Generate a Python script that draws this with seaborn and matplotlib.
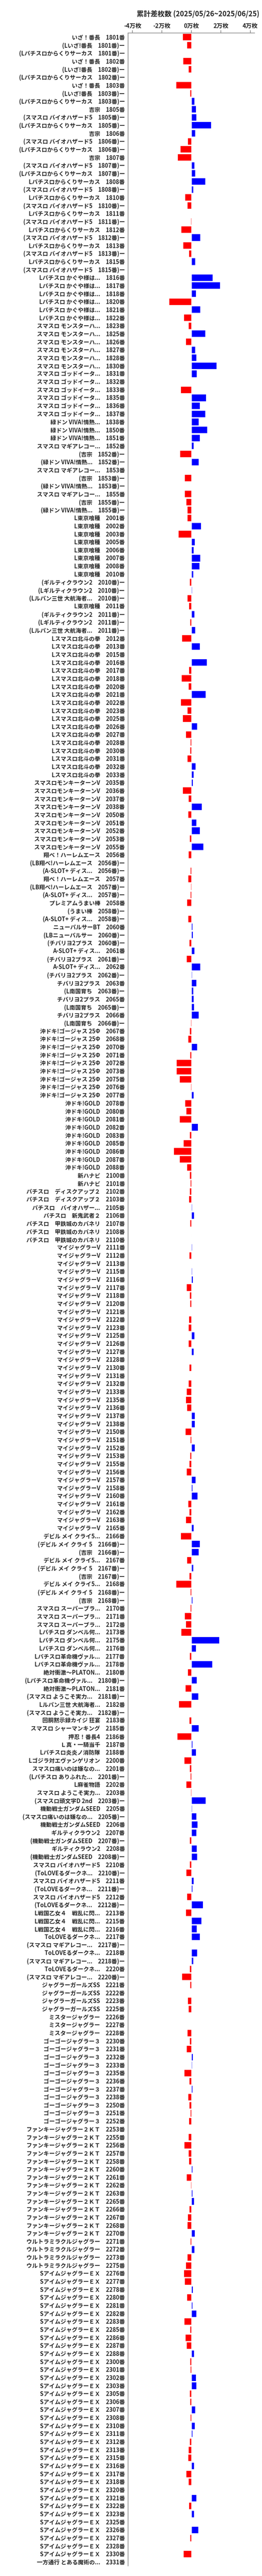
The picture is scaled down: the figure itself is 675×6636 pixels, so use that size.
import matplotlib
matplotlib.use("Agg")
import matplotlib.pyplot as plt
import seaborn as sns
import pandas as pd
from matplotlib.ticker import FixedLocator

S = "　"
labels = [
"いざ！番長"+S+"1801番","(Lいざ!番長"+S+"1801番)ー","(Lパチスロからくりサーカス"+S+"1801番)ー",
"いざ！番長"+S+"1802番","(Lいざ!番長"+S+"1802番)ー","(Lパチスロからくりサーカス"+S+"1802番)ー",
"いざ！番長"+S+"1803番","(Lいざ!番長"+S+"1803番)ー","(Lパチスロからくりサーカス"+S+"1803番)ー",
"吉宗"+S+"1805番","(スマスロ バイオハザード5"+S+"1805番)ー","(Lパチスロからくりサーカス"+S+"1805番)ー",
"吉宗"+S+"1806番","(スマスロ バイオハザード5"+S+"1806番)ー","(Lパチスロからくりサーカス"+S+"1806番)ー",
"吉宗"+S+"1807番","(スマスロ バイオハザード5"+S+"1807番)ー","(Lパチスロからくりサーカス"+S+"1807番)ー",
"Lパチスロからくりサーカス"+S+"1808番","(スマスロ バイオハザード5"+S+"1808番)ー",
"Lパチスロからくりサーカス"+S+"1810番","(スマスロ バイオハザード5"+S+"1810番)ー",
"Lパチスロからくりサーカス"+S+"1811番","(スマスロ バイオハザード5"+S+"1811番)ー",
"Lパチスロからくりサーカス"+S+"1812番","(スマスロ バイオハザード5"+S+"1812番)ー",
"Lパチスロからくりサーカス"+S+"1813番","(スマスロ バイオハザード5"+S+"1813番)ー",
"Lパチスロからくりサーカス"+S+"1815番","(スマスロ バイオハザード5"+S+"1815番)ー",
"Lパチスロ かぐや様は..."+S+"1816番","Lパチスロ かぐや様は..."+S+"1817番","Lパチスロ かぐや様は..."+S+"1818番",
"Lパチスロ かぐや様は..."+S+"1820番","Lパチスロ かぐや様は..."+S+"1821番","Lパチスロ かぐや様は..."+S+"1822番",
"スマスロ モンスターハ..."+S+"1823番","スマスロ モンスターハ..."+S+"1825番","スマスロ モンスターハ..."+S+"1826番",
"スマスロ モンスターハ..."+S+"1827番","スマスロ モンスターハ..."+S+"1828番","スマスロ モンスターハ..."+S+"1830番",
"スマスロ ゴッドイータ..."+S+"1831番","スマスロ ゴッドイータ..."+S+"1832番","スマスロ ゴッドイータ..."+S+"1833番",
"スマスロ ゴッドイータ..."+S+"1835番","スマスロ ゴッドイータ..."+S+"1836番","スマスロ ゴッドイータ..."+S+"1837番",
"緑ドン VIVA!情熱..."+S+"1838番","緑ドン VIVA!情熱..."+S+"1850番","緑ドン VIVA!情熱..."+S+"1851番",
"スマスロ マギアレコー..."+S+"1852番","(吉宗"+S+"1852番)ー","(緑ドン VIVA!情熱..."+S+"1852番)ー",
"スマスロ マギアレコー..."+S+"1853番","(吉宗"+S+"1853番)ー","(緑ドン VIVA!情熱..."+S+"1853番)ー",
"スマスロ マギアレコー..."+S+"1855番","(吉宗"+S+"1855番)ー","(緑ドン VIVA!情熱..."+S+"1855番)ー",
"L東京喰種"+S+"2001番","L東京喰種"+S+"2002番","L東京喰種"+S+"2003番","L東京喰種"+S+"2005番",
"L東京喰種"+S+"2006番","L東京喰種"+S+"2007番","L東京喰種"+S+"2008番","L東京喰種"+S+"2010番",
"(ギルティクラウン2"+S+"2010番)ー","(Lギルティクラウン2"+S+"2010番)ー","(Lルパン三世 大航海者..."+S+"2010番)ー",
"L東京喰種"+S+"2011番","(ギルティクラウン2"+S+"2011番)ー","(Lギルティクラウン2"+S+"2011番)ー","(Lルパン三世 大航海者..."+S+"2011番)ー",
"Lスマスロ北斗の拳"+S+"2012番","Lスマスロ北斗の拳"+S+"2013番","Lスマスロ北斗の拳"+S+"2015番","Lスマスロ北斗の拳"+S+"2016番",
"Lスマスロ北斗の拳"+S+"2017番","Lスマスロ北斗の拳"+S+"2018番","Lスマスロ北斗の拳"+S+"2020番","Lスマスロ北斗の拳"+S+"2021番",
"Lスマスロ北斗の拳"+S+"2022番","Lスマスロ北斗の拳"+S+"2023番","Lスマスロ北斗の拳"+S+"2025番","Lスマスロ北斗の拳"+S+"2026番",
"Lスマスロ北斗の拳"+S+"2027番","Lスマスロ北斗の拳"+S+"2028番","Lスマスロ北斗の拳"+S+"2030番","Lスマスロ北斗の拳"+S+"2031番",
"Lスマスロ北斗の拳"+S+"2032番","Lスマスロ北斗の拳"+S+"2033番",
"スマスロモンキーターンV"+S+"2035番","スマスロモンキーターンV"+S+"2036番","スマスロモンキーターンV"+S+"2037番",
"スマスロモンキーターンV"+S+"2038番","スマスロモンキーターンV"+S+"2050番","スマスロモンキーターンV"+S+"2051番",
"スマスロモンキーターンV"+S+"2052番","スマスロモンキーターンV"+S+"2053番","スマスロモンキーターンV"+S+"2055番",
"翔べ！ハーレムエース"+S+"2056番","(LB翔べ!ハーレムエース"+S+"2056番)ー","(A-SLOT+ ディス..."+S+"2056番)ー",
"翔べ！ハーレムエース"+S+"2057番","(LB翔べ!ハーレムエース"+S+"2057番)ー","(A-SLOT+ ディス..."+S+"2057番)ー",
"プレミアムうまい棒"+S+"2058番","(うまい棒"+S+"2058番)ー","(A-SLOT+ ディス..."+S+"2058番)ー",
"ニューパルサーBT"+S+"2060番","(LBニューパルサー"+S+"2060番)ー","(チバリヨ2プラス"+S+"2060番)ー",
"A-SLOT+ ディス..."+S+"2061番","(チバリヨ2プラス"+S+"2061番)ー",
"A-SLOT+ ディス..."+S+"2062番","(チバリヨ2プラス"+S+"2062番)ー",
"チバリヨ2プラス"+S+"2063番","(L南国育ち"+S+"2063番)ー","チバリヨ2プラス"+S+"2065番","(L南国育ち"+S+"2065番)ー",
"チバリヨ2プラス"+S+"2066番","(L南国育ち"+S+"2066番)ー",
"沖ドキ!ゴージャス 25Φ"+S+"2067番","沖ドキ!ゴージャス 25Φ"+S+"2068番","沖ドキ!ゴージャス 25Φ"+S+"2070番",
"沖ドキ!ゴージャス 25Φ"+S+"2071番","沖ドキ!ゴージャス 25Φ"+S+"2072番","沖ドキ!ゴージャス 25Φ"+S+"2073番",
"沖ドキ!ゴージャス 25Φ"+S+"2075番","沖ドキ!ゴージャス 25Φ"+S+"2076番","沖ドキ!ゴージャス 25Φ"+S+"2077番",
"沖ドキ!GOLD"+S+"2078番","沖ドキ!GOLD"+S+"2080番","沖ドキ!GOLD"+S+"2081番","沖ドキ!GOLD"+S+"2082番",
"沖ドキ!GOLD"+S+"2083番","沖ドキ!GOLD"+S+"2085番","沖ドキ!GOLD"+S+"2086番","沖ドキ!GOLD"+S+"2087番","沖ドキ!GOLD"+S+"2088番",
"新ハナビ"+S+"2100番","新ハナビ"+S+"2101番","パチスロ"+S+"ディスクアップ２"+S+"2102番","パチスロ"+S+"ディスクアップ２"+S+"2103番",
"パチスロ"+S+"バイオハザー..."+S+"2105番","パチスロ"+S+"新鬼武者２"+S+"2106番",
"パチスロ"+S+"甲鉄城のカバネリ"+S+"2107番","パチスロ"+S+"甲鉄城のカバネリ"+S+"2108番","パチスロ"+S+"甲鉄城のカバネリ"+S+"2110番",
] + ["マイジャグラーV"+S+n+"番" for n in ["2111","2112","2113","2115","2116","2117","2118","2120","2121","2122","2123","2125","2126","2127","2128","2130","2131","2132","2133","2135","2136","2137","2138","2150","2151","2152","2153","2155","2156","2157","2158","2160","2161","2162","2163","2165"]] + [
"デビル メイ クライ5..."+S+"2166番","(デビル メイ クライ 5"+S+"2166番)ー","(吉宗"+S+"2166番)ー",
"デビル メイ クライ5..."+S+"2167番","(デビル メイ クライ 5"+S+"2167番)ー","(吉宗"+S+"2167番)ー",
"デビル メイ クライ5..."+S+"2168番","(デビル メイ クライ 5"+S+"2168番)ー","(吉宗"+S+"2168番)ー",
"スマスロ スーパーブラ..."+S+"2170番","スマスロ スーパーブラ..."+S+"2171番","スマスロ スーパーブラ..."+S+"2172番",
"Lパチスロ ダンベル何..."+S+"2173番","Lパチスロ ダンベル何..."+S+"2175番","Lパチスロ ダンベル何..."+S+"2176番",
"Lパチスロ革命機ヴァル..."+S+"2177番","Lパチスロ革命機ヴァル..."+S+"2178番",
"絶対衝激～PLATON..."+S+"2180番","(Lパチスロ革命機ヴァル..."+S+"2180番)ー",
"絶対衝激～PLATON..."+S+"2181番","(スマスロ ようこそ実力..."+S+"2181番)ー",
"Lルパン三世 大航海者..."+S+"2182番","(スマスロ ようこそ実力..."+S+"2182番)ー",
"回胴黙示録カイジ 狂宴"+S+"2183番","スマスロ シャーマンキング"+S+"2185番","押忍！番長4"+S+"2186番",
"Ｌ真・一騎当千"+S+"2187番","Lパチスロ炎炎ノ消防隊"+S+"2188番","Lゴジラ対エヴァンゲリオン"+S+"2200番",
"スマスロ痛いのは嫌なの..."+S+"2201番","(Lパチスロ ありふれた..."+S+"2201番)ー","L麻雀物語"+S+"2202番",
"スマスロ ようこそ実力..."+S+"2203番","(スマスロ頭文字D 2nd"+S+"2203番)ー",
"機動戦士ガンダムSEED"+S+"2205番","(スマスロ痛いのは嫌なの..."+S+"2205番)ー","機動戦士ガンダムSEED"+S+"2206番",
"ギルティクラウン2"+S+"2207番","(機動戦士ガンダムSEED"+S+"2207番)ー","ギルティクラウン2"+S+"2208番","(機動戦士ガンダムSEED"+S+"2208番)ー",
"スマスロ バイオハザード5"+S+"2210番","(ToLOVEるダークネ..."+S+"2210番)ー",
"スマスロ バイオハザード5"+S+"2211番","(ToLOVEるダークネ..."+S+"2211番)ー",
"スマスロ バイオハザード5"+S+"2212番","(ToLOVEるダークネ..."+S+"2212番)ー",
"L戦国乙女４"+S+"戦乱に閃..."+S+"2213番","L戦国乙女４"+S+"戦乱に閃..."+S+"2215番","L戦国乙女４"+S+"戦乱に閃..."+S+"2216番",
"ToLOVEるダークネ..."+S+"2217番","(スマスロ マギアレコー..."+S+"2217番)ー",
"ToLOVEるダークネ..."+S+"2218番","(スマスロ マギアレコー..."+S+"2218番)ー",
"ToLOVEるダークネ..."+S+"2220番","(スマスロ マギアレコー..."+S+"2220番)ー",
] + ["ジャグラーガールズSS"+S+n+"番" for n in ["2221","2222","2223","2225"]] \
  + ["ミスタージャグラー"+S+n+"番" for n in ["2226","2227","2228"]] \
  + ["ゴーゴージャグラー３"+S+n+"番" for n in ["2230","2231","2232","2233","2235","2236","2237","2238","2250","2251","2252"]] \
  + ["ファンキージャグラー２ＫＴ"+S+n+"番" for n in ["2253","2255","2256","2257","2258","2260","2261","2262","2263","2265","2266","2267","2268","2270"]] \
  + ["ウルトラミラクルジャグラー"+S+n+"番" for n in ["2271","2272","2273","2275"]] \
  + ["SアイムジャグラーＥＸ"+S+n+"番" for n in ["2276","2277","2278","2280","2281","2282","2283","2285","2286","2287","2288","2300","2301","2302","2303","2305","2306","2307","2308","2310","2311","2312","2313","2315","2316","2317","2318","2320","2321","2322","2323","2325","2326","2327","2328","2330"]] \
  + ["一方通行 とある魔術の..."+S+"2331番"]

values = [
-6000,-3300,-200,-5700,-2200,0,-10700,-1200,2100,3100,3300,13500,2700,-2600,-7800,-9500,2100,2700,9600,1200,
-4500,-3000,0,-500,-7100,6000,-5700,-1800,2700,-200,
14500,19500,3200,-15400,6000,-5400,
-2100,9600,-4100,2700,3500,17000,
3600,300,-7300,10100,5700,9600,
5100,10700,5700,
1600,-7900,5100,-400,-4900,-100,-4900,-3700,-3000,
-2900,6600,-9000,2300,1600,6100,5600,1200,
-1400,400,-2900,-1800,2000,-1000,2500,
-6600,5800,-400,10500,-1800,-6900,-2200,9800,-7300,-2800,-6100,4000,-4100,-900,-1000,-2800,2900,1600,
1000,-6100,-2100,7000,-2400,3300,5800,-1300,8200,
-2100,0,-800,-2400,-600,-900,-3300,0,-2400,
800,1100,-1600,2100,-3400,6100,600,3300,1300,1500,1700,4900,-600,
-1300,-2500,4000,-1200,-10200,-10300,-8200,-600,1500,
-4500,-3800,-8100,4500,-1300,-5500,-12100,-8100,-3300,
-1400,-800,-1300,-2000,400,1700,-1000,-400,-200,
400,-1600,-200,600,1100,-3500,-1300,-1200,300,-1800,-2200,2100,-2200,1600,-200,-1700,-200,-2200,-3500,-3900,-3300,2300,2400,
-4300,-900,2300,-1200,-1700,-3400,2800,800,4300,-2400,-1700,-3900,1500,
-7400,5800,4900,-3300,1200,-1600,-10500,-900,700,
-900,-4700,-3900,-7100,18900,3100,-1300,14300,
-2600,3700,-4300,4800,-8600,300,-1700,4900,-9700,700,3200,-5000,
-1400,-900,-3700,-500,9700,600,3500,4100,3300,-1300,3700,4000,
-1300,-3700,1500,700,-3300,8000,-3900,6900,3600,5700,-200,3900,1200,-1300,-6500,
-1200,-100,-2600,-2200,-100,100,-2800,
-1300,-3400,1000,400,-5100,-1600,800,-2400,-1600,-900,-1800,
-200,-2100,-5000,-2200,-2000,800,-3500,-600,700,1700,-1600,-2600,-2800,2300,
-900,2000,-3000,-3900,
-5400,-4900,1100,-3100,800,3300,-5000,-1000,-4200,-3400,1700,-1200,-900,3100,3500,-1300,-1000,2700,-900,2300,700,-1400,-2100,-2500,1700,-3700,-2100,0,3300,-1800,1700,-400,4800,-1000,-100,-5500,
0,
]
assert len(labels) == len(values), (len(labels), len(values))

xticks = [-40000, -20000, 0, 20000, 40000]
xticklabels = ["-4万枚", "-2万枚", "0万枚", "2万枚", "4万枚"]
title = "累計差枚数 (2025/05/26~2025/06/25)"

sns.set_theme(style="white")
plt.rcParams['font.family'] = ['Noto Sans CJK JP', 'DejaVu Sans']

df = pd.DataFrame({"label": labels, "value": values})
df["sign"] = ["pos" if v > 0 else "neg" for v in values]

fig = plt.figure(figsize=(6.75, 66.36), dpi=100)
ax = fig.add_axes([0.489, 0.0039, 0.483, 0.9833])
sns.barplot(data=df, x="value", y="label", hue="sign", order=labels,
            palette={"pos": "#0000ff", "neg": "#ff0000"}, dodge=False,
            width=0.88, legend=False, ax=ax, saturation=1)
ax.set_xlim(-43000, 43000)
ax.set_ylim(len(labels) - 0.5, -0.5)
ax.xaxis.set_major_locator(FixedLocator(xticks))
ax.set_xticklabels(xticklabels, fontsize=11, fontweight="bold")
ax.xaxis.tick_top()
ax.tick_params(axis="x", length=5, color="#888888", pad=2, top=True, bottom=False)
ax.tick_params(axis="y", length=0, pad=6)
for t in ax.get_yticklabels():
    t.set_fontsize(10.5)
    t.set_fontweight("bold")
ax.set_xlabel("")
ax.set_ylabel("")
for s in ["right", "bottom"]:
    ax.spines[s].set_visible(False)
for s in ["left", "top"]:
    ax.spines[s].set_color("#888888")
    ax.spines[s].set_linewidth(1.2)
fig.text(0.99, 1 - 36/6636, title, ha="right", va="center", fontsize=13, fontweight="bold")
fig.savefig("out.png", dpi=100)
